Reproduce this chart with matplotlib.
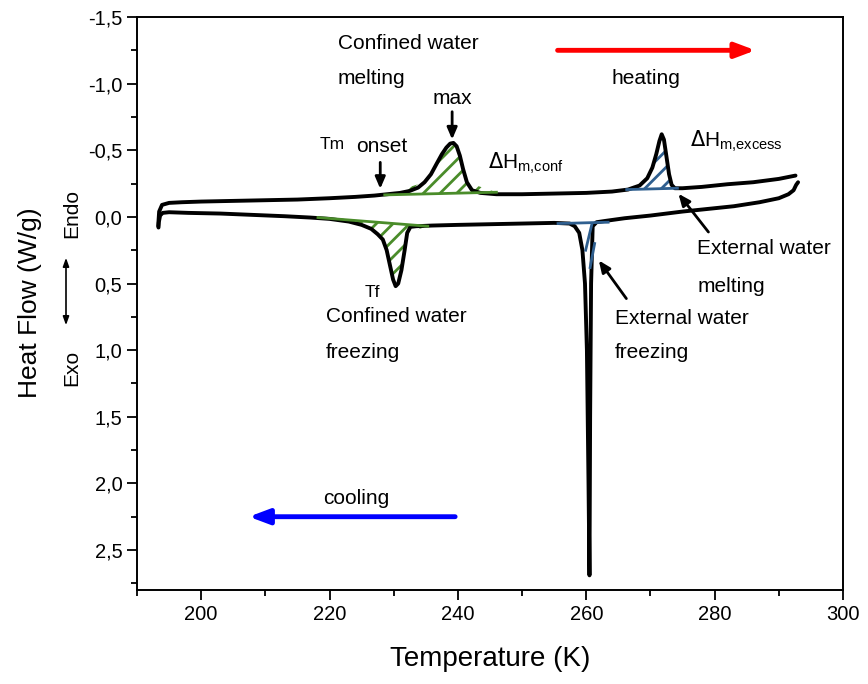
import matplotlib.pyplot as plt
from matplotlib.ticker import MultipleLocator, FuncFormatter

plt.rcParams['font.family'] = ['Liberation Sans', 'DejaVu Sans']
plt.rcParams['hatch.linewidth'] = 2.0

# heating run (endo peaks are negative, axis is inverted)
heat_T = [193.3, 193.45, 193.9, 195, 197, 200, 205, 210, 215, 220, 224, 227, 229, 231,
          232.5, 233.8, 234.8, 235.8, 236.7, 237.5, 238.2, 238.8, 239.3, 239.8, 240.3,
          240.8, 241.4, 242.2, 243.5, 246, 250, 255, 260, 264, 266.5, 268.3, 269.5,
          270.3, 270.9, 271.4, 271.75, 272.1, 272.5, 272.9, 273.3, 273.8, 275, 278,
          282, 286, 290, 292.6]
heat_hf = [0.07, -0.04, -0.09, -0.105, -0.11, -0.115, -0.12, -0.125, -0.13, -0.14, -0.15,
           -0.16, -0.17, -0.18, -0.195, -0.22, -0.26, -0.32, -0.40, -0.47, -0.52, -0.55,
           -0.555, -0.53, -0.46, -0.36, -0.26, -0.20, -0.18, -0.17, -0.17, -0.175, -0.18,
           -0.19, -0.205, -0.235, -0.29, -0.37, -0.47, -0.57, -0.62, -0.58, -0.45, -0.32,
           -0.24, -0.215, -0.215, -0.225, -0.245, -0.26, -0.285, -0.31]

# cooling run, in acquisition order (high T -> low T, with the freezing spike)
cool_T = [293.0, 292.7, 292.3, 291.5, 290, 287, 283, 279, 275, 270, 266, 263, 261.6, 261.0,
          260.75, 260.6, 260.5, 260.35, 260.1, 259.8, 259.4, 258.9, 258.2, 257.4, 255,
          250, 245, 240, 236, 233.5, 232.6, 232.1, 231.7, 231.2, 230.7, 230.3, 229.9,
          229.4, 228.9, 228.3, 227.5, 226.5, 225, 223, 220, 217, 213, 208, 203, 198,
          195, 194, 193.6, 193.4, 193.35]
cool_hf = [-0.26, -0.24, -0.20, -0.17, -0.14, -0.11, -0.08, -0.06, -0.04, -0.01, 0.01, 0.03,
           0.04, 0.07, 0.5, 1.5, 2.69, 2.0, 1.0, 0.5, 0.25, 0.12, 0.07, 0.05, 0.045, 0.05,
           0.055, 0.06, 0.065, 0.07, 0.075, 0.12, 0.25, 0.40, 0.50, 0.52, 0.47, 0.36, 0.25,
           0.17, 0.13, 0.09, 0.06, 0.035, 0.015, 0.005, -0.005, -0.015, -0.025, -0.03,
           -0.035, -0.03, -0.01, 0.04, 0.08]

# integration baselines (start T, start hf, end T, end hf)
melt_conf_base = [228.6, -0.165, 246.0, -0.185]
freeze_conf_base = [218.2, 0.005, 235.3, 0.07]
melt_ext_base = [266.3, -0.205, 274.2, -0.215]
freeze_ext_base = [255.6, 0.05, 263.4, 0.04]

green = '#4a8c2a'
navy = '#2f5f8f'

fig = plt.figure(figsize=(8.68, 6.84), dpi=100)
ax = fig.add_axes([137 / 868, 1 - 590 / 684, 706 / 868, 573 / 684])


def hatch_peak(T, hf, base, lo, hi, color):
    pts = sorted((t, h) for t, h in zip(T, hf) if lo <= t <= hi)
    xs = [base[0]] + [p[0] for p in pts] + [base[2]]
    ys = [base[1]] + [p[1] for p in pts] + [base[3]]
    ax.fill(xs, ys, facecolor='none', edgecolor=color, hatch='//', linewidth=0, zorder=1)
    ax.plot([base[0], base[2]], [base[1], base[3]], color=color, lw=2, zorder=3)


hatch_peak(heat_T, heat_hf, melt_conf_base, 234.0, 241.8, green)
hatch_peak(heat_T, heat_hf, melt_ext_base, 268.5, 273.5, navy)
hatch_peak(cool_T[30:46], cool_hf[30:46], freeze_conf_base, 224.0, 232.3, green)
ax.plot([freeze_ext_base[0], freeze_ext_base[2]], [freeze_ext_base[1], freeze_ext_base[3]],
        color=navy, lw=2, zorder=3)
ax.plot([260.9, 259.9], [0.05, 0.25], color=navy, lw=2, zorder=3)
ax.plot([261.3, 260.6], [0.2, 0.38], color=navy, lw=2, zorder=3)

ax.plot(heat_T, heat_hf, color='black', lw=2.8, zorder=2, solid_capstyle='round')
ax.plot(cool_T, cool_hf, color='black', lw=2.8, zorder=2, solid_capstyle='round')

ax.set_xlim(190, 300)
ax.set_ylim(2.8, -1.5)
ax.xaxis.set_major_locator(MultipleLocator(20))
ax.xaxis.set_minor_locator(MultipleLocator(10))
ax.yaxis.set_major_locator(MultipleLocator(0.5))
ax.yaxis.set_minor_locator(MultipleLocator(0.25))
ax.yaxis.set_major_formatter(FuncFormatter(lambda v, p: f'{v:.1f}'.replace('.', ',')))
ax.tick_params(which='both', direction='out', top=False, right=False, width=1.3)
ax.tick_params(which='major', length=7, labelsize=14.5)
ax.tick_params(which='minor', length=4)
for s in ax.spines.values():
    s.set_linewidth(1.4)

ax.set_xlabel('Temperature (K)', fontsize=20, labelpad=16)
fig.text(30 / 868, 1 - 303 / 684, 'Heat Flow (W/g)', rotation=90, fontsize=19,
         ha='center', va='center')
fig.text(72 / 868, 1 - 213 / 684, 'Endo', rotation=90, fontsize=15, ha='center', va='center')
fig.text(72 / 868, 1 - 368 / 684, 'Exo', rotation=90, fontsize=15, ha='center', va='center')
fig.add_artist(plt.Annotation('', xy=(66 / 868, 1 - 255 / 684), xytext=(66 / 868, 1 - 328 / 684),
                              xycoords='figure fraction', textcoords='figure fraction',
                              arrowprops=dict(arrowstyle='<|-|>,head_length=0.5,head_width=0.18',
                                              color='black', lw=1.2)))

fs = 15
arr = dict(arrowstyle='-|>,head_length=0.7,head_width=0.3', color='black', lw=2)
ax.text(221.3, -1.30, 'Confined water', fontsize=fs, va='center')
ax.text(221.3, -1.035, 'melting', fontsize=fs, va='center')
ax.text(239.1, -0.89, 'max', fontsize=fs, ha='center', va='center')
ax.annotate('', xy=(239.1, -0.56), xytext=(239.1, -0.81), arrowprops=arr)
ax.text(218.4, -0.54, 'Tm', fontsize=12.5, va='center')
ax.text(224.1, -0.53, 'onset', fontsize=fs, va='center')
ax.annotate('', xy=(227.9, -0.19), xytext=(227.9, -0.43), arrowprops=arr)
ax.text(244.7, -0.40, r'$\Delta$H$_{\mathregular{m{,}conf}}$', fontsize=fs, va='center')
ax.text(269.3, -1.035, 'heating', fontsize=fs, ha='center', va='center')
ax.annotate('', xy=(286.8, -1.25), xytext=(255.1, -1.25),
            arrowprops=dict(arrowstyle='-|>,head_length=1.2,head_width=0.45', color='red', lw=3.5))
ax.text(276.2, -0.57, r'$\Delta$H$_{\mathregular{m{,}excess}}$', fontsize=fs, va='center')
ax.text(277.3, 0.24, 'External water', fontsize=fs, va='center')
ax.text(277.3, 0.52, 'melting', fontsize=fs, va='center')
ax.annotate('', xy=(274.1, -0.19), xytext=(279.3, 0.13), arrowprops=arr)
ax.text(264.5, 0.76, 'External water', fontsize=fs, va='center')
ax.text(264.5, 1.02, 'freezing', fontsize=fs, va='center')
ax.annotate('', xy=(261.7, 0.31), xytext=(266.5, 0.63), arrowprops=arr)
ax.text(225.5, 0.57, 'Tf', fontsize=12.5, va='center')
ax.text(219.4, 0.75, 'Confined water', fontsize=fs, va='center')
ax.text(219.4, 1.02, 'freezing', fontsize=fs, va='center')
ax.text(219.0, 2.115, 'cooling', fontsize=fs, va='center')
ax.annotate('', xy=(207.0, 2.25), xytext=(240.0, 2.25),
            arrowprops=dict(arrowstyle='-|>,head_length=1.2,head_width=0.45', color='blue', lw=3.5))

fig.savefig('out.png', dpi=100)
